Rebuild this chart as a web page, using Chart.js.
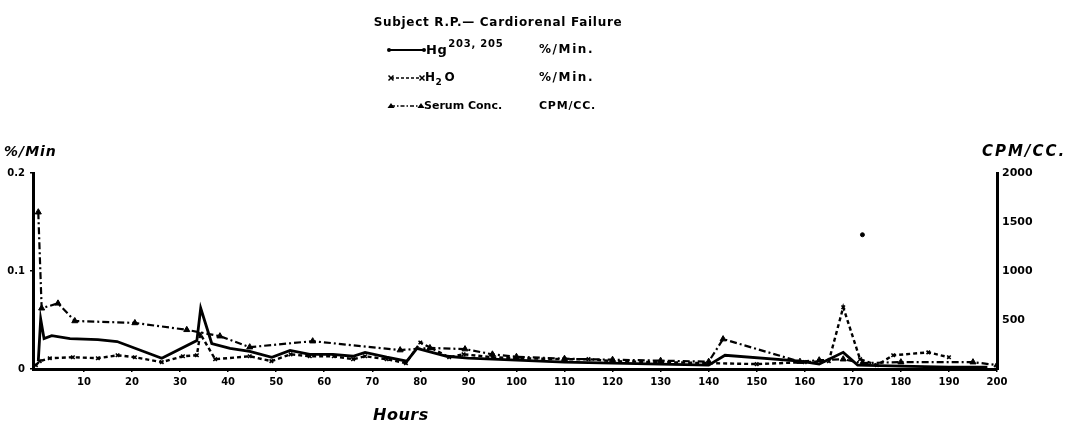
<!DOCTYPE html>
<html>
<head>
<meta charset="utf-8">
<script src="https://cdn.jsdelivr.net/npm/chart.js@4.4.0/dist/chart.umd.min.js"></script>
<style>
html,body{margin:0;padding:0;background:#fff;}
#wrap{position:relative;width:1071px;height:425px;}
canvas{display:block;}
</style>
</head>
<body>
<div id="wrap"><canvas id="c" width="1071" height="425"></canvas></div>
<script>
// ---- Data ----
const hourTicks = [10,20,30,40,50,60,70,80,90,100,110,120,130,140,150,160,170,180,190,200];
const leftTicks = [0, 0.1, 0.2];
const rightTicks = [500, 1000, 1500, 2000];

// Hg 203,205  (%/Min, left axis)
const hgHours  = [0.5, 1, 1.7, 3.3, 7.1, 12.9, 16.9, 26.2, 33.5, 34.3, 36.6, 40.4, 44.5, 49.1, 52.9, 57, 61.8, 66, 68.5, 73, 77.2, 79.3, 85.5, 90, 100, 110, 120, 130, 140, 143.4, 159, 163, 168, 171, 180, 190, 198];
const hgValues = [0.008, 0.051, 0.031, 0.034, 0.031, 0.030, 0.028, 0.011, 0.029, 0.062, 0.026, 0.021, 0.018, 0.012, 0.019, 0.015, 0.015, 0.013, 0.017, 0.012, 0.008, 0.021, 0.013, 0.011, 0.009, 0.007, 0.006, 0.005, 0.004, 0.014, 0.008, 0.005, 0.017, 0.004, 0.003, 0.002, 0.002];

// H2O (%/Min, left axis)
const h2oHours  = [0, 0.8, 2.9, 7.7, 12.9, 17, 20.6, 26.2, 30.6, 33.5, 34.2, 37.3, 44.5, 49, 53, 57, 62, 66, 68.5, 73, 77, 80, 86, 89, 95, 100, 110, 115, 120, 130, 140, 150, 160, 165, 168, 171.5, 175, 178.4, 185.7, 190];
const h2oValues = [0.004, 0.008, 0.011, 0.012, 0.011, 0.014, 0.012, 0.007, 0.013, 0.014, 0.036, 0.010, 0.013, 0.008, 0.015, 0.013, 0.013, 0.010, 0.013, 0.010, 0.006, 0.027, 0.012, 0.015, 0.012, 0.011, 0.010, 0.010, 0.008, 0.007, 0.006, 0.005, 0.007, 0.008, 0.063, 0.010, 0.004, 0.014, 0.017, 0.012];

// Serum concentration (CPM/CC., right axis)
const serumHours  = [0.5, 1.2, 4.6, 8.1, 20.6, 31.4, 38.3, 44.5, 57.6, 75.8, 82, 89.3, 95, 100, 110, 120, 130, 140, 143, 159, 163, 168, 172, 180, 195, 200];
const serumValues = [1600, 620, 670, 490, 470, 400, 335, 223, 284, 193, 215, 203, 150, 125, 105, 95, 85, 75, 305, 75, 90, 100, 60, 70, 70, 40];

// isolated mark on the sheet (right axis)
const strayHours  = [172];
const strayValues = [1370];

const pairs = (xs, ys) => xs.map((x, i) => ({x: x, y: ys[i]}));

const FONT = '"DejaVu Sans", "Liberation Sans", sans-serif';

const textPlugin = {
  id: 'texts',
  afterDraw(chart) {
    const ctx = chart.ctx;
    ctx.save();
    ctx.fillStyle = '#000';
    ctx.strokeStyle = '#000';
    ctx.textBaseline = 'middle';
    const setLS = v => { if ('letterSpacing' in ctx) ctx.letterSpacing = v; };

    // header
    ctx.font = 'bold 12px ' + FONT;
    ctx.textAlign = 'center';
    setLS('0.7px');
    ctx.fillText('Subject R.P.\u2014 Cardiorenal Failure', 498, 23);

    ctx.textAlign = 'left';
    // row 1: Hg
    ctx.lineWidth = 2;
    ctx.setLineDash([]);
    ctx.beginPath(); ctx.moveTo(389, 50); ctx.lineTo(424, 50); ctx.stroke();
    [389, 424].forEach(x => { ctx.beginPath(); ctx.arc(x, 50, 2, 0, Math.PI*2); ctx.fill(); });
    ctx.font = 'bold 13px ' + FONT;
    setLS('0.5px');
    ctx.fillText('Hg', 426, 51);
    const hgw = ctx.measureText('Hg').width;
    ctx.font = 'bold 10px ' + FONT;
    setLS('0.8px');
    ctx.fillText('203, 205', 426 + hgw + 1, 44);
    ctx.font = 'bold 12px ' + FONT;
    setLS('1.6px');
    ctx.fillText('%/Min.', 539, 50);

    // row 2: H2O
    ctx.lineWidth = 1.5;
    ctx.setLineDash([3, 2]);
    ctx.beginPath(); ctx.moveTo(391, 78); ctx.lineTo(422, 78); ctx.stroke();
    ctx.setLineDash([]);
    [391, 422].forEach(x => {
      ctx.beginPath(); ctx.moveTo(x-2.5, 75.5); ctx.lineTo(x+2.5, 80.5); ctx.moveTo(x-2.5, 80.5); ctx.lineTo(x+2.5, 75.5); ctx.stroke();
    });
    ctx.font = 'bold 12px ' + FONT;
    setLS('0.5px');
    ctx.fillText('H', 425, 78);
    const hw = ctx.measureText('H').width;
    ctx.font = 'bold 9px ' + FONT;
    ctx.fillText('2', 425 + hw, 83);
    ctx.font = 'bold 12px ' + FONT;
    ctx.fillText('O', 425 + hw + 9, 78);
    setLS('1.6px');
    ctx.fillText('%/Min.', 539, 78);

    // row 3: serum
    ctx.lineWidth = 1.5;
    ctx.setLineDash([4, 2, 1.5, 2]);
    ctx.beginPath(); ctx.moveTo(391, 106); ctx.lineTo(421, 106); ctx.stroke();
    ctx.setLineDash([]);
    [391, 421].forEach(x => {
      ctx.beginPath(); ctx.moveTo(x-3.5, 108); ctx.lineTo(x+3.5, 108); ctx.lineTo(x, 103); ctx.closePath(); ctx.fill();
    });
    ctx.font = 'bold 11px ' + FONT;
    setLS('0px');
    ctx.fillText('Serum Conc.', 424, 106);
    ctx.font = 'bold 11px ' + FONT;
    setLS('0.8px');
    ctx.fillText('CPM/CC.', 539, 106);

    // axis titles
    ctx.font = 'italic bold 14px ' + FONT;
    setLS('1px');
    ctx.fillText('%/Min', 4, 152);
    ctx.font = 'italic bold 15px ' + FONT;
    setLS('2px');
    ctx.fillText('CPM/CC.', 982, 152);
    ctx.font = 'italic bold 16px ' + FONT;
    setLS('0.5px');
    ctx.fillText('Hours', 373, 416);
    ctx.restore();
  }
};

const axisGrid = {display: true, drawOnChartArea: false, drawTicks: true, tickLength: 3, color: '#000', lineWidth: 1.5};

new Chart(document.getElementById('c'), {
  type: 'scatter',
  data: {
    datasets: [
      {
        label: 'Hg 203,205', data: pairs(hgHours, hgValues), yAxisID: 'y', showLine: true,
        borderColor: '#000', backgroundColor: '#000', borderWidth: 2.8, pointRadius: 0, tension: 0
      },
      {
        label: 'H2O', data: pairs(h2oHours, h2oValues), yAxisID: 'y', showLine: true,
        borderColor: '#000', backgroundColor: '#000', borderWidth: 2.4, borderDash: [4, 3],
        pointStyle: 'crossRot', pointRadius: 2.5, pointBorderWidth: 1.6, tension: 0
      },
      {
        label: 'Serum Conc.', data: pairs(serumHours, serumValues), yAxisID: 'y2', showLine: true,
        borderColor: '#000', backgroundColor: '#000', borderWidth: 2.2, borderDash: [7, 3, 2, 3],
        pointStyle: 'triangle', pointRadius: 3.5, pointBorderWidth: 1, tension: 0
      },
      {
        label: 'mark', data: pairs(strayHours, strayValues), yAxisID: 'y2', showLine: false,
        borderColor: '#000', backgroundColor: '#000', pointStyle: 'circle', pointRadius: 2
      }
    ]
  },
  options: {
    responsive: false,
    devicePixelRatio: 1,
    animation: false,
    layout: {padding: {top: 173, left: 0, right: 0, bottom: 0}},
    plugins: {legend: {display: false}, tooltip: {enabled: false}, title: {display: false}},
    scales: {
      x: {
        type: 'linear', position: 'bottom', min: -0.6, max: 200,
        afterFit(s) { s.height = 56; },
        afterBuildTicks(s) { s.ticks = hourTicks.map(v => ({value: v})); },
        grid: axisGrid,
        border: {display: true, color: '#000', width: 3},
        ticks: {color: '#000', font: {family: FONT, weight: 'bold', size: 10}, padding: 4, maxRotation: 0, autoSkip: false}
      },
      y: {
        type: 'linear', position: 'left', min: 0, max: 0.2,
        afterFit(s) { s.width = 33; },
        afterBuildTicks(s) { s.ticks = leftTicks.map(v => ({value: v})); },
        grid: axisGrid,
        border: {display: true, color: '#000', width: 3},
        ticks: {color: '#000', font: {family: FONT, weight: 'bold', size: 10}, padding: 5,
                callback: v => String(v)}
      },
      y2: {
        type: 'linear', position: 'right', min: 0, max: 2000,
        afterFit(s) { s.width = 74; },
        afterBuildTicks(s) { s.ticks = rightTicks.map(v => ({value: v})); },
        grid: {display: true, drawOnChartArea: false, drawTicks: false, color: '#000'},
        border: {display: true, color: '#000', width: 3},
        ticks: {color: '#000', font: {family: FONT, weight: 'bold', size: 11}, padding: 5,
                callback: v => String(v)}
      }
    }
  },
  plugins: [textPlugin]
});
</script>
</body>
</html>
